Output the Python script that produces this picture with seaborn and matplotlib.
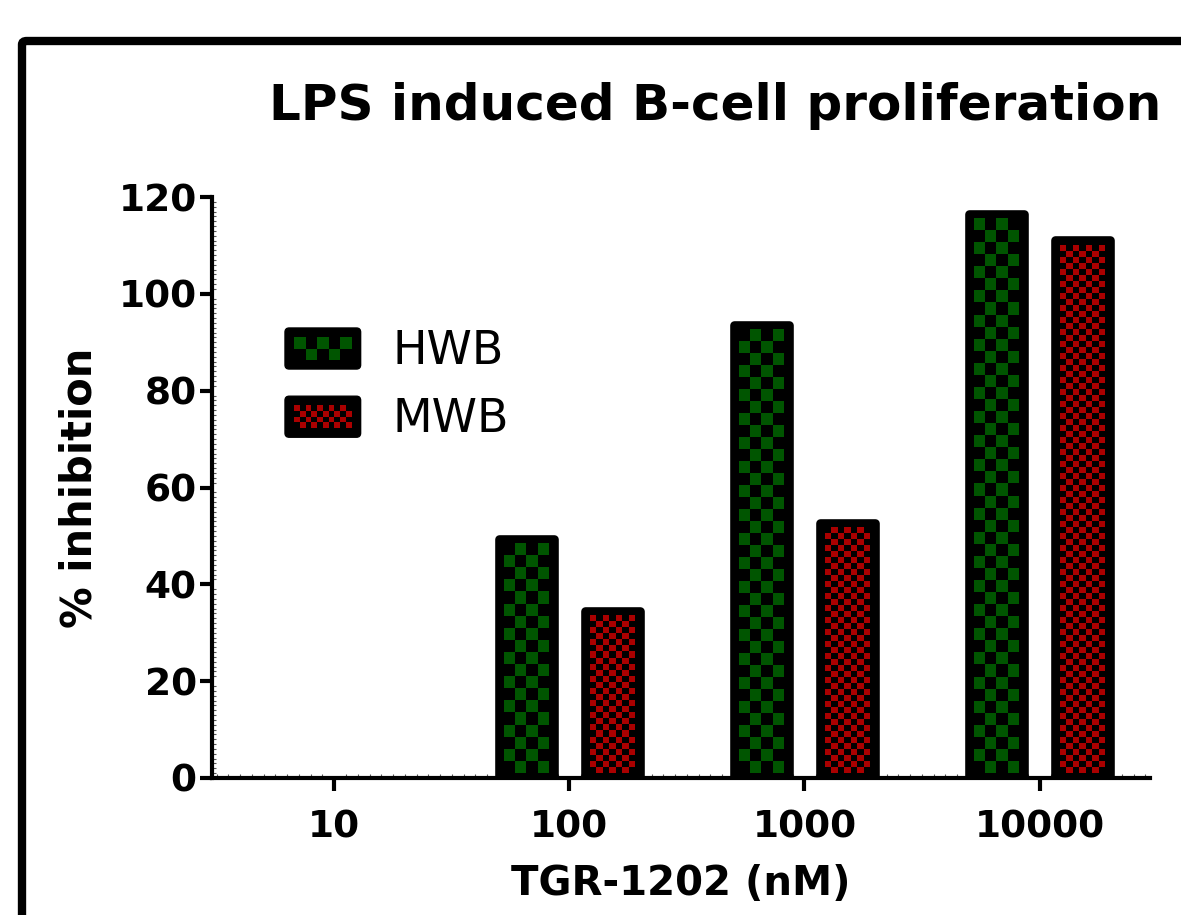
import numpy as np
import pandas as pd
import matplotlib
matplotlib.use("Agg")
import matplotlib.pyplot as plt
import seaborn as sns
from matplotlib.colors import ListedColormap
from matplotlib.legend_handler import HandlerBase
from matplotlib.patches import Rectangle, FancyBboxPatch, Patch
from matplotlib.ticker import MultipleLocator

# data
concentrations = ["10", "100", "1000", "10000"]
hwb_inhibition = [0, 49.4, 93.6, 116.5]
mwb_inhibition = [0, 34.5, 52.7, 111.1]
groups = ["HWB", "MWB"]
group_colors = {"HWB": "#005500", "MWB": "#aa0000"}
cell_px = {"HWB": 12, "MWB": 6}

df = pd.DataFrame({
    "conc": concentrations * 2,
    "inhibition": hwb_inhibition + mwb_inhibition,
    "group": ["HWB"] * 4 + ["MWB"] * 4,
})

sns.set_style("ticks", {"text.color": "black", "axes.labelcolor": "black",
                        "xtick.color": "black", "ytick.color": "black",
                        "axes.edgecolor": "black"})
plt.rcParams["font.family"] = ["DejaVu Sans"]

W, H = 1181, 915
fig = plt.figure(figsize=(W / 100, H / 100), dpi=100)
ax = fig.add_axes([212 / W, 1 - 778 / H, (1150 - 212) / W, (778 - 197) / H])

sns.barplot(data=df, x="conc", y="inhibition", hue="group", hue_order=groups,
            order=concentrations, palette=["black", "black"], width=0.73, gap=0.36,
            edgecolor="black", linewidth=6.2, saturation=1, legend=False, ax=ax)

ax.set_xlim(-0.52, 3.47)
ax.set_ylim(0, 120)
ax.set_yticks(range(0, 121, 20))


def checker_fill(ax, patch, color, cell, inset=5):
    bb = patch.get_bbox()
    (px0, py0) = ax.transData.transform((bb.x0, bb.y0))
    (px1, py1) = ax.transData.transform((bb.x1, bb.y1))
    px0, py0, px1, py1 = px0 + inset, py0 + inset, px1 - inset, py1 - inset
    ncols = max(1, int(round((px1 - px0) / cell)))
    nrows = max(1, int(round((py1 - py0) / cell)))
    arr = np.add.outer(np.arange(nrows), np.arange(ncols)) % 2
    inv = ax.transData.inverted()
    x0, y0 = inv.transform((px0, py0))
    x1, y1 = inv.transform((px1, py1))
    ax.imshow(arr, extent=(x0, x1, y0, y1), origin="lower", aspect="auto",
              cmap=ListedColormap(["black", color]), interpolation="nearest",
              zorder=patch.get_zorder() + 0.5)


bars = [p for p in ax.patches]
for i, p in enumerate(bars):
    grp = groups[i // len(concentrations)]
    if p.get_height() <= 0:
        p.set_visible(False)
        continue
    p.set_joinstyle("round")
    checker_fill(ax, p, group_colors[grp], cell_px[grp])

ax.set_xlim(-0.52, 3.47)
ax.set_ylim(0, 120)

# axes styling
sns.despine(ax=ax)
for s in ["left", "bottom"]:
    ax.spines[s].set_linewidth(3)
    ax.spines[s].set_color("black")
ax.tick_params(axis="both", which="major", length=9, width=3, direction="out", color="black")
ax.tick_params(axis="y", pad=2, labelsize=27)
ax.tick_params(axis="x", pad=14, labelsize=27)
ax.yaxis.set_minor_locator(MultipleLocator(1))
ax.xaxis.set_minor_locator(MultipleLocator(0.05))
ax.tick_params(axis="both", which="minor", length=3, width=0.8, direction="in", color="#555555")
for lab in ax.get_xticklabels() + ax.get_yticklabels():
    lab.set_fontweight("bold")
    lab.set_color("black")

ax.set_xlabel("TGR-1202 (nM)", fontsize=29, fontweight="bold", labelpad=13, color="black")
ax.set_ylabel("% inhibition", fontsize=30, fontweight="bold", labelpad=13, color="black")

fig.text(715 / W, 1 - 106 / H, "LPS induced B-cell proliferation", fontsize=36,
         fontweight="bold", ha="center", va="center", color="black")

# outer frame (runs off the right and bottom edge)
fig.patches.append(FancyBboxPatch((22 / W, -0.1), 1.2, 1 - 41 / H + 0.1,
                                  boxstyle="round,pad=0,rounding_size=0.004",
                                  transform=fig.transFigure, fill=False,
                                  edgecolor="black", linewidth=6, figure=fig))


class CheckerHandler(HandlerBase):
    def create_artists(self, legend, orig_handle, xdescent, ydescent,
                       width, height, fontsize, trans):
        color = orig_handle.get_facecolor()
        cell = orig_handle.cell * 0.72
        inset = 9 * 0.72
        x0, y0 = -xdescent, -ydescent
        arts = [FancyBboxPatch((x0, y0), width, height,
                               boxstyle="round,pad=0,rounding_size=3",
                               facecolor="black", edgecolor="black",
                               linewidth=1, transform=trans)]
        ncols = max(1, int(round((width - 2 * inset) / cell)))
        nrows = max(1, int(round((height - 2 * inset) / cell)))
        cw = (width - 2 * inset) / ncols
        ch = (height - 2 * inset) / nrows
        for r in range(nrows):
            for c in range(ncols):
                if (r + c) % 2:
                    arts.append(Rectangle((x0 + inset + c * cw, y0 + inset + r * ch),
                                          cw, ch, facecolor=color, edgecolor="none",
                                          linewidth=0, transform=trans))
        return arts


handles = []
for g in groups:
    h = Patch(facecolor=group_colors[g], label=g)
    h.cell = cell_px[g]
    handles.append(h)

leg = ax.legend(handles=handles, handler_map={Patch: CheckerHandler()},
                loc="upper left", bbox_to_anchor=(285 / W, 1 - 328 / H),
                bbox_transform=fig.transFigure, frameon=False,
                fontsize=33, handlelength=1.65, handleheight=1.0,
                handletextpad=0.7, labelspacing=0.48, borderpad=0,
                borderaxespad=0)
for t in leg.get_texts():
    t.set_color("black")

fig.savefig("out.png", dpi=100)
